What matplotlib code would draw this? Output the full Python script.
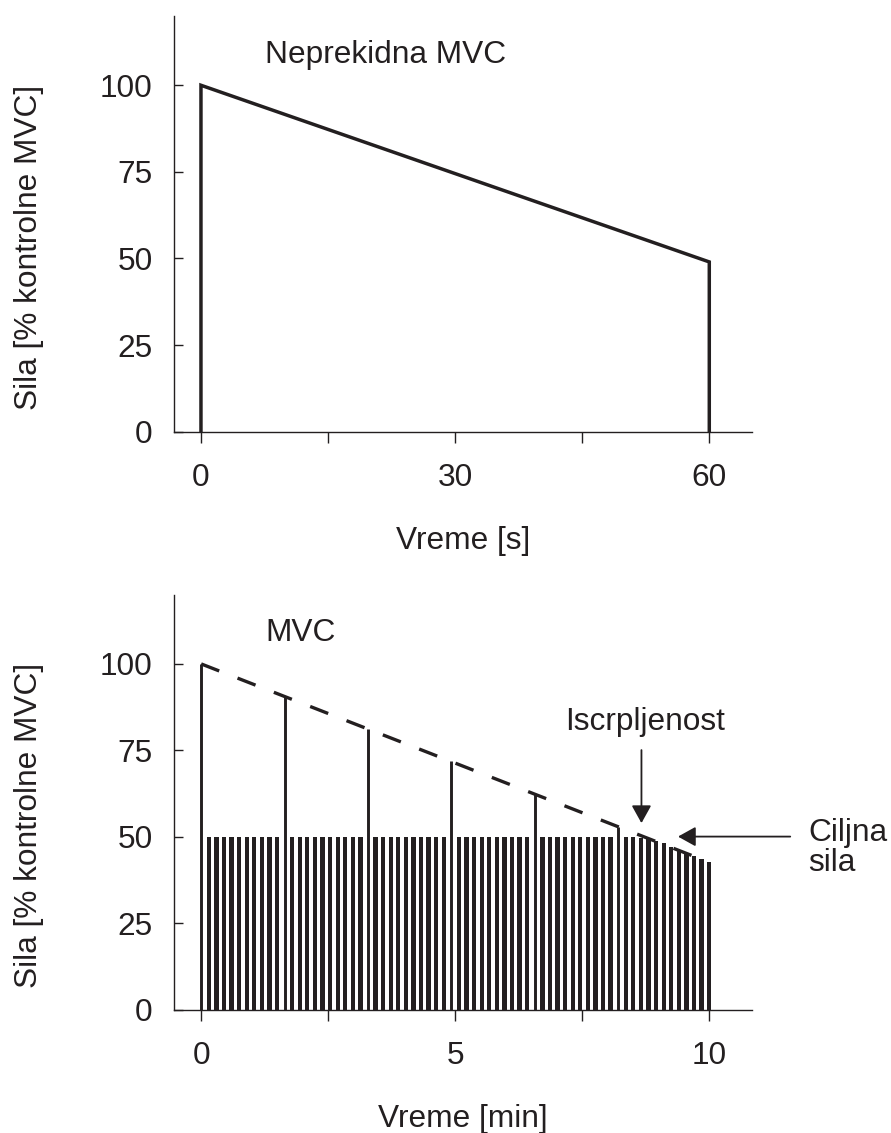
import matplotlib.pyplot as plt
import numpy as np

plt.rcParams['font.family'] = ['Liberation Sans', 'DejaVu Sans']

# Top panel: continuous MVC (time in s, force in % of control MVC)
cont_time = [0, 0, 60, 60]
cont_force = [0, 100, 49, 0]

# Bottom panel: intermittent contractions, one every ~9 s
period_min = 0.1493
force = [100, 50, 50, 50, 50, 50, 50, 50, 50, 50, 50,
         90.4, 50, 50, 50, 50, 50, 50, 50, 50, 50, 50,
         81.2, 50, 50, 50, 50, 50, 50, 50, 50, 50, 50,
         71.9, 50, 50, 50, 50, 50, 50, 50, 50, 50, 50,
         62.4, 50, 50, 50, 50, 50, 50, 50, 50, 50, 50,
         53.0, 50, 50, 49.8, 49.4, 48.9, 48.3, 47.2, 46.3, 45.4, 44.5, 43.6, 42.8]
mvc_index = [0, 11, 22, 33, 44, 55]
fatigue_t = [0, 10]
fatigue_f = [100, 42.7]

ink = '#231f20'
fs = 22.8

fig = plt.figure(figsize=(8.91, 11.33), dpi=100)
ax1 = fig.add_axes([0.1956, 0.619, 0.648, 0.3669])
ax2 = fig.add_axes([0.1956, 0.1086, 0.648, 0.3665])


def style(ax, xticks, xlabels, xlim, xlabel):
    for s in ['top', 'right']:
        ax.spines[s].set_visible(False)
    for s in ['left', 'bottom']:
        ax.spines[s].set_linewidth(1.0)
        ax.spines[s].set_color(ink)
    ax.set_ylim(0, 120)
    ax.set_xlim(*xlim)
    ax.set_yticks([0, 25, 50, 75, 100])
    ax.set_xticks(xticks)
    ax.set_xticklabels(xlabels)
    ax.tick_params(axis='y', direction='in', length=6.7, width=1.0, pad=15.5,
                   labelsize=fs, colors=ink)
    ax.tick_params(axis='x', direction='out', length=7.9, width=1.0, pad=14.5,
                   labelsize=fs, colors=ink)
    ax.set_xlabel(xlabel, fontsize=fs, color=ink, va='top')
    ax.xaxis.set_label_coords(0.5, -0.226)
    ax.set_ylabel('Sila [% kontrolne MVC]', fontsize=fs, color=ink)
    ax.yaxis.set_label_coords(-0.226, 0.444)


# Top plot
ax1.plot(cont_time, cont_force, color=ink, lw=2.5, solid_joinstyle='miter')
style(ax1, [0, 15, 30, 45, 60], ['0', '', '30', '', '60'], (-3.15, 65.0), 'Vreme [s]')
ax1.text(7.6, 108.7, 'Neprekidna MVC', fontsize=fs, color=ink, va='center', ha='left')

# Bottom plot
t = np.arange(len(force)) * period_min
force = np.array(force)
sub = np.ones(len(force), dtype=bool)
sub[mvc_index] = False
ax2.bar(t[sub], force[sub], width=0.085, color=ink, linewidth=0)
ax2.vlines(t[mvc_index], 0, force[mvc_index], color=ink, lw=2.1)
ax2.plot(fatigue_t, fatigue_f, color=ink, lw=2.4, linestyle=(0, (5.8, 5.9)))
style(ax2, [0, 2.5, 5, 7.5, 10], ['0', '', '5', '', '10'], (-0.53, 10.84), 'Vreme [min]')
ax2.text(1.26, 108.8, 'MVC', fontsize=fs, color=ink, va='center', ha='left')

arrow = dict(arrowstyle='-|>,head_length=0.45,head_width=0.25',
             mutation_scale=24, color=ink, lw=1.3, shrinkA=0, shrinkB=0)
ax2.annotate('', xy=(8.67, 54.0), xytext=(8.67, 75.1), arrowprops=arrow)
ax2.text(8.74, 83.2, 'Iscrpljenost', fontsize=fs, color=ink, ha='center', va='center')
ax2.annotate('', xy=(9.39, 50.1), xytext=(11.6, 50.1), arrowprops=arrow,
             annotation_clip=False)
ax2.text(11.95, 46.8, 'Ciljna\nsila', fontsize=fs, color=ink, ha='left', va='center',
         linespacing=1.0, clip_on=False)

fig.savefig('out.png', dpi=100)
